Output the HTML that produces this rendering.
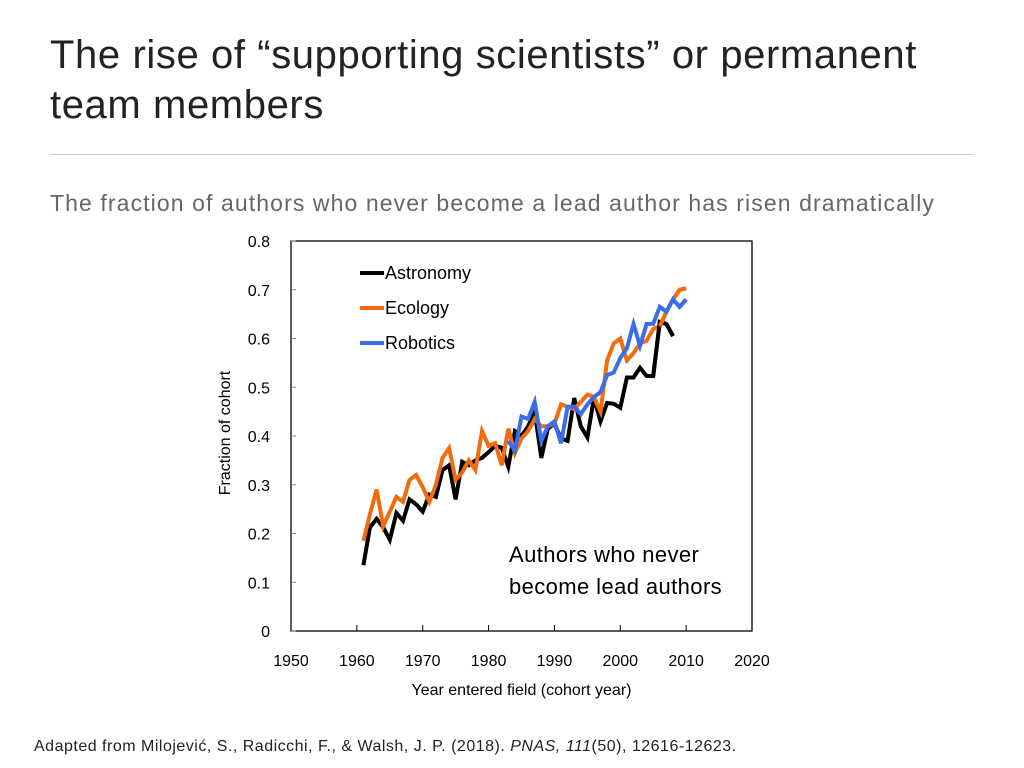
<!DOCTYPE html>
<html><head><meta charset="utf-8"><style>
body{margin:0;width:1024px;height:768px;background:#fff;font-family:"Liberation Sans",sans-serif;overflow:hidden;position:relative}
.t{position:absolute;left:50px;top:30px;font-size:40px;line-height:50px;color:#222;letter-spacing:0.6px}
.hr{position:absolute;left:50px;top:154px;width:923px;height:1px;background:#ccc}
.sub{position:absolute;left:50px;top:190px;font-size:23px;color:#666;letter-spacing:1.1px;white-space:nowrap}
.cite{position:absolute;left:34px;top:738px;font-size:16px;color:#222;letter-spacing:0.5px;white-space:nowrap}
svg{position:absolute;left:0;top:0}
</style></head><body>
<div class="t">The rise of “supporting scientists” or permanent<br>team members</div>
<div class="hr"></div>
<div class="sub">The fraction of authors who never become a lead author has risen dramatically</div>
<svg id="chart" width="1024" height="768" font-family="Liberation Sans, sans-serif"></svg>
<div class="cite">Adapted from Milojević, S., Radicchi, F., &amp; Walsh, J. P. (2018). <i>PNAS, 111</i>(50), 12616-12623.</div>
<script>
const xTicks=[1950,1960,1970,1980,1990,2000,2010,2020];
const yTicks=[0,0.1,0.2,0.3,0.4,0.5,0.6,0.7,0.8];
const yTickLabels=["0","0.1","0.2","0.3","0.4","0.5","0.6","0.7","0.8"];
const astroStart=1961;
const astronomy=[0.135,0.213,0.23,0.213,0.187,0.242,0.226,0.27,0.26,0.245,0.28,0.275,0.33,0.34,0.27,0.347,0.34,0.35,0.355,0.367,0.38,0.376,0.337,0.41,0.40,0.42,0.45,0.355,0.415,0.425,0.395,0.39,0.478,0.42,0.397,0.478,0.43,0.468,0.466,0.458,0.52,0.52,0.54,0.523,0.523,0.634,0.63,0.605];
const ecoStart=1961;
const ecology=[0.185,0.24,0.29,0.215,0.245,0.275,0.265,0.31,0.32,0.295,0.265,0.3,0.355,0.375,0.31,0.325,0.35,0.33,0.41,0.38,0.385,0.34,0.415,0.365,0.395,0.41,0.435,0.42,0.42,0.425,0.465,0.46,0.455,0.47,0.485,0.48,0.45,0.555,0.59,0.6,0.555,0.57,0.59,0.595,0.62,0.625,0.655,0.68,0.7,0.703];
const roboStart=1983;
const robotics=[0.39,0.37,0.44,0.435,0.47,0.39,0.42,0.43,0.385,0.46,0.46,0.445,0.465,0.48,0.49,0.525,0.53,0.56,0.58,0.63,0.585,0.63,0.63,0.665,0.655,0.68,0.665,0.68];
const L=291,R=752,T=241,B=631;
const xs=y=>L+(y-1950)/70*(R-L);
const ys=v=>B-v/0.8*(B-T);
const svg=document.getElementById('chart');
const NS='http://www.w3.org/2000/svg';
function mk(tag,attrs,parent){const e=document.createElementNS(NS,tag);for(const k in attrs)e.setAttribute(k,attrs[k]);(parent||svg).appendChild(e);return e;}
const box=mk('rect',{x:L,y:T,width:R-L,height:B-T,fill:'none',stroke:'#000','stroke-width':1.3});


yTicks.forEach((v,i)=>{
  const tk=mk('line',{x1:L,x2:L+5,y1:ys(v),y2:ys(v),stroke:'#888'});
  
  
  const t=mk('text',{x:L-21,y:ys(v)+6,'text-anchor':'end','font-size':16,fill:'#000'});
  t.textContent=yTickLabels[i];
  
  
});
xTicks.forEach(v=>{
  const tk=mk('line',{x1:xs(v),x2:xs(v),y1:B,y2:B-6,stroke:'#000'});
  
  
  const t=mk('text',{x:xs(v),y:B+35,'text-anchor':'middle','font-size':16,fill:'#000'});
  t.textContent=v;
  
  
});
const xt=mk('text',{x:(L+R)/2,y:695,'text-anchor':'middle','font-size':16});
xt.textContent='Year entered field (cohort year)';


const yt=mk('text',{x:0,y:0,'text-anchor':'middle','font-size':16,transform:'translate(230,433) rotate(-90)'});
yt.textContent='Fraction of cohort';


function series(arr,start,color,name){
  const pts=arr.map((v,i)=>xs(start+i).toFixed(1)+','+ys(v).toFixed(1)).join(' ');
  const p=mk('polyline',{points:pts,fill:'none',stroke:color,'stroke-width':4,'stroke-linejoin':'miter'});
  
  
}
series(astronomy,astroStart,'#000','astronomy-line');
series(ecology,ecoStart,'#f26b0f','ecology-line');
series(robotics,roboStart,'#3a6ee8','robotics-line');
series(astronomy.slice(44),astroStart+44,'#000','astronomy-line-end');
series(ecology.slice(45),ecoStart+45,'#f26b0f','ecology-line-end');
series(robotics.slice(23),roboStart+23,'#3a6ee8','robotics-line-end');
[['Astronomy','#000',273],['Ecology','#f26b0f',308],['Robotics','#3a6ee8',343]].forEach(([n,c,y])=>{
  const g=mk('g',{});
  
  
  mk('line',{x1:360,x2:384,y1:y,y2:y,stroke:c,'stroke-width':4},g);
  const t=mk('text',{x:385,y:y+6,'font-size':18},g);
  t.textContent=n;
});
const a=mk('text',{x:509,y:562,'font-size':22,'letter-spacing':0.4});
a.textContent='Authors who never';


const b=mk('text',{x:509,y:594,'font-size':22,'letter-spacing':0.4});
b.textContent='become lead authors';


</script>
</body></html>
